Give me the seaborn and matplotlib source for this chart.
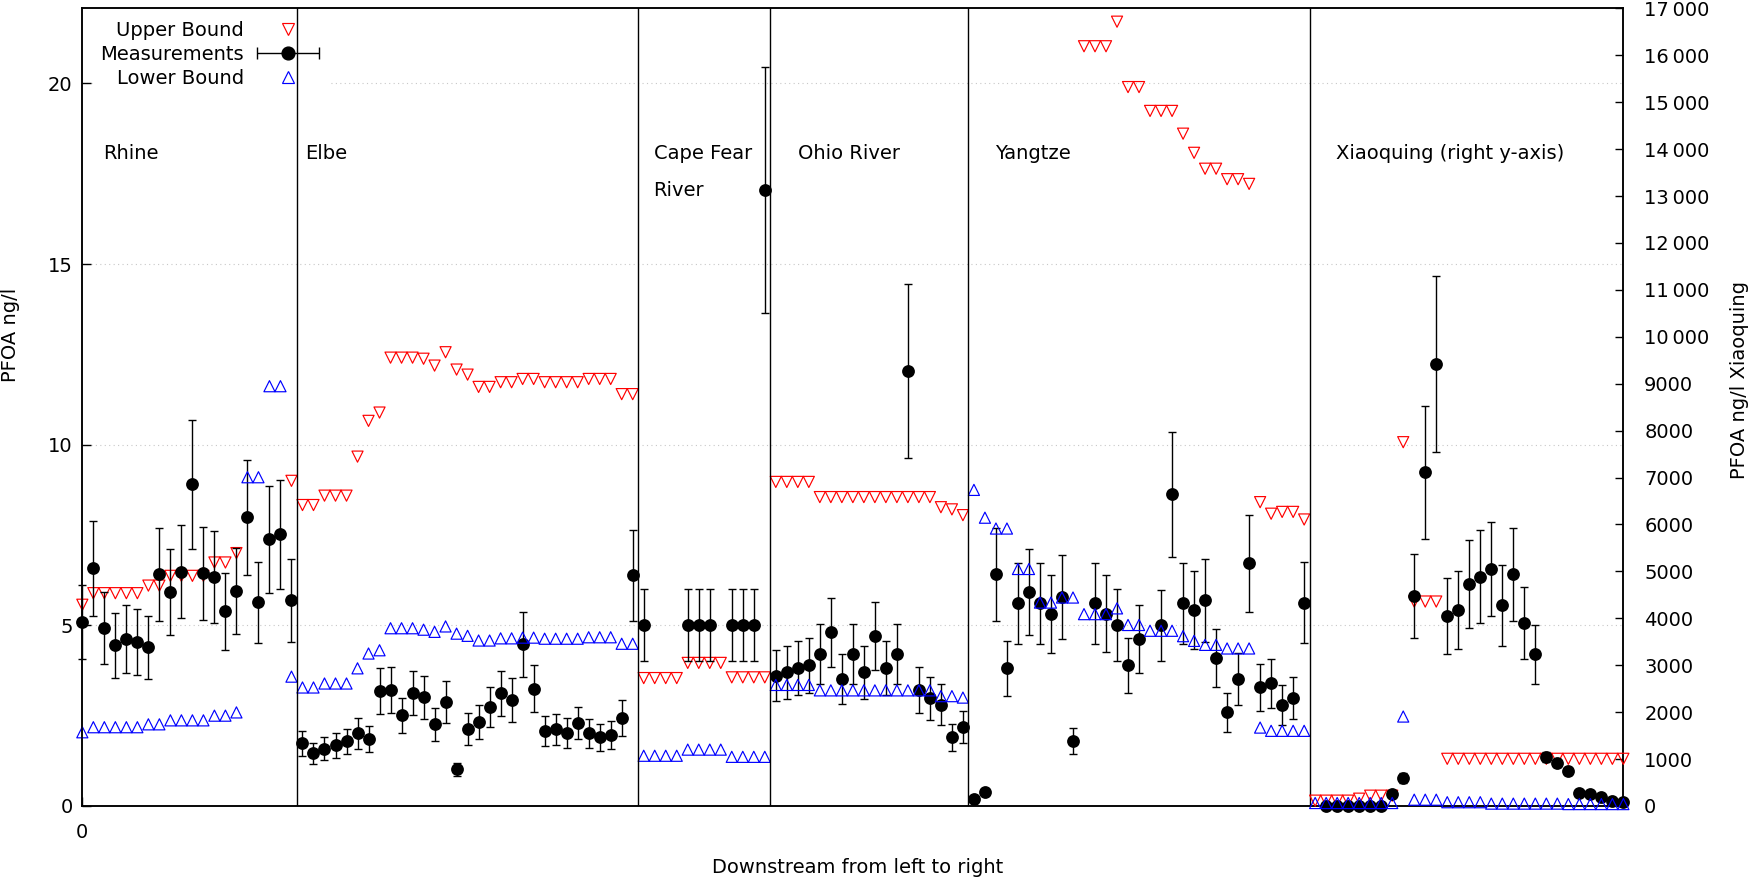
import numpy as np
import pandas as pd
import matplotlib
matplotlib.use("Agg")
import matplotlib.pyplot as plt
import seaborn as sns
from matplotlib.lines import Line2D
from matplotlib.container import ErrorbarContainer
from matplotlib.legend_handler import HandlerErrorbar

# PFOA ng/l per sampling point, downstream order, None = not available
rhine_upper = [5.57, 5.89, 5.89, 5.89, 5.89, 5.89, 6.10, 6.10, 6.37, 6.37,
               6.37, 6.37, 6.74, 6.74, 7.00, None, None, None, None, 9.00]
rhine_meas = [5.09, 6.58, 4.92, 4.45, 4.63, 4.53, 4.39, 6.41, 5.91, 6.49,
              8.90, 6.44, 6.33, 5.39, 5.94, 7.99, 5.64, 7.38, 7.52, 5.69]
rhine_err = [1.03, 1.32, 0.99, 0.90, 0.94, 0.91, 0.87, 1.29, 1.19, 1.30,
             1.78, 1.29, 1.27, 1.07, 1.19, 1.60, 1.12, 1.48, 1.51, 1.15]
rhine_lower = [2.04, 2.18, 2.18, 2.18, 2.18, 2.18, 2.26, 2.26, 2.37, 2.37,
               2.37, 2.37, 2.50, 2.50, 2.59, 9.10, 9.10, 11.62, 11.62, 3.58]

elbe_upper = [8.33, 8.33, 8.59, 8.59, 8.59, 9.67, 10.66, 10.89, 12.41, 12.41,
              12.41, 12.38, 12.19, 12.56, 12.08, 11.94, 11.60, 11.60, 11.73, 11.73,
              11.82, 11.82, 11.73, 11.73, 11.73, 11.73, 11.82, 11.82, 11.82, 11.40, 11.40]
elbe_meas = [1.73, 1.46, 1.59, 1.68, 1.79, 2.01, 1.85, 3.18, 3.21, 2.51,
             3.12, 3.01, 2.26, 2.88, 1.01, 2.13, 2.32, 2.74, 3.12, 2.93,
             4.48, 3.24, 2.07, 2.12, 2.02, 2.29, 2.01, 1.90, 1.96, 2.43, 6.38]
elbe_err = [0.35, 0.29, 0.32, 0.34, 0.35, 0.42, 0.37, 0.63, 0.64, 0.49,
            0.61, 0.60, 0.45, 0.57, 0.18, 0.43, 0.47, 0.55, 0.62, 0.60,
            0.90, 0.65, 0.42, 0.43, 0.41, 0.45, 0.40, 0.38, 0.39, 0.49, 1.27]
elbe_lower = [3.28, 3.28, 3.39, 3.39, 3.39, 3.81, 4.22, 4.31, 4.92, 4.92,
              4.92, 4.88, 4.82, 4.97, 4.77, 4.71, 4.58, 4.58, 4.64, 4.64,
              4.66, 4.66, 4.63, 4.63, 4.63, 4.63, 4.67, 4.67, 4.67, 4.49, 4.49]

capefear_upper = [3.54, 3.54, 3.54, 3.54, 3.96, 3.96, 3.96, 3.96, 3.56, 3.56, 3.56, 3.56]
capefear_meas = [5.0, None, None, None, 5.0, 5.0, 5.0, None, 5.0, 5.0, 5.0, 17.05]
capefear_err = [1.0, None, None, None, 1.0, 1.0, 1.0, None, 1.0, 1.0, 1.0, 3.4]
capefear_lower = [1.39, 1.39, 1.39, 1.39, 1.56, 1.56, 1.56, 1.56, 1.36, 1.36, 1.36, 1.36]

ohio_upper = [8.97, 8.97, 8.97, 8.97, 8.55, 8.55, 8.55, 8.55, 8.55, 8.55,
              8.55, 8.55, 8.55, 8.55, 8.55, 8.27, 8.21, 8.05]
ohio_meas = [3.61, 3.70, 3.81, 3.89, 4.20, 4.81, 3.51, 4.20, 3.70, 4.70,
             3.81, 4.20, 12.04, 3.21, 2.98, 2.80, 1.90, 2.18]
ohio_err = [0.71, 0.74, 0.75, 0.77, 0.83, 0.96, 0.69, 0.83, 0.74, 0.95,
            0.75, 0.83, 2.40, 0.65, 0.59, 0.57, 0.37, 0.44]
ohio_lower = [3.35, 3.35, 3.35, 3.35, 3.20, 3.20, 3.20, 3.20, 3.20, 3.20,
              3.20, 3.20, 3.20, 3.20, 3.20, 3.04, 3.04, 3.00]

yangtze_upper = [None, None, None, None, None, None, None, None, None, None,
                 21.03, 21.03, 21.03, 21.71, 19.90, 19.90, 19.24, 19.24, 19.24, 18.61,
                 18.08, 17.64, 17.64, 17.35, 17.35, 17.22, 8.41, 8.09, 8.14, 8.14, 7.93]
yangtze_meas = [0.18, 0.39, 6.41, 3.81, 5.61, 5.91, 5.61, 5.31, 5.79, 1.79,
                None, 5.61, 5.32, 5.00, 3.89, 4.62, None, 5.00, 8.63, 5.61,
                5.42, 5.70, 4.09, 2.59, 3.51, 6.72, 3.28, 3.40, 2.79, 2.99, 5.62]
yangtze_err = [0.04, 0.08, 1.28, 0.76, 1.12, 1.19, 1.12, 1.07, 1.16, 0.36,
               None, 1.12, 1.07, 1.00, 0.77, 0.93, None, 0.99, 1.73, 1.12,
               1.08, 1.15, 0.81, 0.53, 0.72, 1.34, 0.66, 0.68, 0.56, 0.59, 1.12]
yangtze_lower = [8.75, 7.98, 7.68, 7.68, 6.56, 6.56, 5.63, 5.63, 5.77, 5.77,
                 5.31, 5.31, 5.31, 5.47, 5.01, 5.01, 4.85, 4.85, 4.85, 4.70,
                 4.57, 4.46, 4.46, 4.36, 4.36, 4.36, 2.17, 2.08, 2.08, 2.08, 2.08]

# Xiaoquing is read on the right y-axis
xiaoquing_upper = [113, 113, 113, 113, 155, 219, 219, 219, 7753, 4357,
                   4357, 4357, 1005, 1005, 1005, 1005, 1005, 1005, 1005, 1005,
                   1005, 1005, 1005, 1005, 1005, 1005, 1005, 1005, 1005]
xiaoquing_meas = [None, 5, 5, 5, 5, 5, 5, 255, 596, 4474,
                  7109, 9419, 4049, 4172, 4730, 4890, 5049, 4277, 4936, 3894,
                  3233, 1039, 912, 735, 274, 252, 188, 96, 74]
xiaoquing_err = [None, 5, 5, 5, 5, 5, 5, 30, 100, 888,
                 1409, 1875, 807, 837, 943, 990, 1003, 858, 993, 770,
                 631, 105, 80, 70, 30, 30, 25, 20, 20]
xiaoquing_lower = [63, 63, 63, 63, 63, 63, 63, 63, 1906, 134,
                   134, 134, 80, 80, 80, 80, 50, 50, 50, 50,
                   50, 50, 50, 40, 40, 40, 40, 40, 40]

river_names = ["Rhine", "Elbe", "Cape Fear River", "Ohio River", "Yangtze", "Xiaoquing"]
label_texts = ["Rhine", "Elbe", "Cape Fear", "River", "Ohio River", "Yangtze",
               "Xiaoquing (right y-axis)"]
label_x = [1.9, 20.2, 51.9, 51.9, 65.0, 82.9, 113.9]
label_y = [18.07, 18.07, 18.07, 17.05, 18.07, 18.07, 18.07]

rivers = [
    (rhine_upper, rhine_meas, rhine_err, rhine_lower),
    (elbe_upper, elbe_meas, elbe_err, elbe_lower),
    (capefear_upper, capefear_meas, capefear_err, capefear_lower),
    (ohio_upper, ohio_meas, ohio_err, ohio_lower),
    (yangtze_upper, yangtze_meas, yangtze_err, yangtze_lower),
    (xiaoquing_upper, xiaoquing_meas, xiaoquing_err, xiaoquing_lower),
]

frames = []
for name, (up, me, er, lo) in zip(river_names, rivers):
    f = pd.DataFrame({"upper": up, "meas": me, "err": er, "lower": lo}).astype(float)
    f["river"] = name
    frames.append(f)
df = pd.concat(frames, ignore_index=True)
df["x"] = np.arange(len(df))
sizes = [len(f) for f in frames]
borders = np.cumsum(sizes)[:-1] - 0.5

left = df[df.river != "Xiaoquing"]
right = df[df.river == "Xiaoquing"]

sns.set_theme(style="white")
plt.rcParams["font.family"] = ["DejaVu Sans"]
plt.rcParams["font.size"] = 14
plt.rcParams["axes.edgecolor"] = "black"
plt.rcParams["axes.linewidth"] = 1.1
plt.rcParams["text.color"] = "black"
plt.rcParams["axes.labelcolor"] = "black"

fig, ax = plt.subplots(figsize=(17.48, 8.77), dpi=100)
fig.subplots_adjust(left=0.0471, right=0.9287, bottom=0.081, top=0.9905)
ax2 = ax.twinx()

RED = "#ff0000"
BLUE = "#0000ff"


def draw(a, d):
    sns.scatterplot(data=d, x="x", y="upper", marker="v", s=64, facecolors="none",
                    edgecolor=RED, linewidth=0.85, ax=a, zorder=3, clip_on=False)
    a.errorbar(d["x"], d["meas"], yerr=d["err"], fmt="none", ecolor="black",
               elinewidth=1.0, capsize=3.2, capthick=1.0, zorder=4, clip_on=False)
    sns.scatterplot(data=d, x="x", y="meas", marker="o", s=85, color="black",
                    edgecolor="black", linewidth=0, ax=a, zorder=5, clip_on=False)
    sns.scatterplot(data=d, x="x", y="lower", marker="^", s=64, facecolors="none",
                    edgecolor=BLUE, linewidth=0.85, ax=a, zorder=6, clip_on=False)


draw(ax, left)
draw(ax2, right)

# river separators, drawn over the legend box like the original
for b in borders:
    ax.axvline(b, color="black", lw=1.0, zorder=11)

for txt, lx, ly in zip(label_texts, label_x, label_y):
    ax.text(lx, ly, txt, ha="left", va="center", fontsize=14, color="black")

ax.set_xlim(0, len(df) - 1)
ax.set_ylim(0, 22.08)
ax2.set_ylim(0, 17000)
ax.set_xticks([0])
ax.set_xticklabels(["0"])
ax.set_yticks([0, 5, 10, 15, 20])
ax.grid(axis="y", color="#c8c8c8", linestyle=(0, (1, 3)), linewidth=0.8)
ax.grid(axis="x", visible=False)
ax2.grid(False)

rticks = np.arange(0, 17001, 1000)
ax2.set_yticks(rticks)
ax2.set_yticklabels([f"{v:,}".replace(",", "\u2009") if v >= 10000 else str(v) for v in rticks])

ax.tick_params(axis="y", left=True, direction="in", length=6.5, width=1, pad=7,
               labelsize=14, colors="black")
ax.tick_params(axis="x", bottom=True, direction="in", length=6.5, width=1, pad=12,
               labelsize=14, colors="black")
ax2.tick_params(axis="y", right=True, direction="in", length=6, width=1, pad=15,
                labelsize=14, colors="black")

ax.set_xlabel("Downstream from left to right", fontsize=14)
ax.set_ylabel("PFOA ng/l", fontsize=14)
ax2.set_ylabel("PFOA ng/l Xiaoquing", fontsize=14, rotation=90)
ax.xaxis.set_label_coords(0.503, -0.0652)
ax.yaxis.set_label_coords(-0.0404, 0.59)
ax2.yaxis.set_label_coords(1.0695, 0.534)
ax2.yaxis.label.set_va("top")

h_up = Line2D([], [], marker="v", ls="none", mfc="none", mec=RED, mew=0.85, ms=8.8)
h_lo = Line2D([], [], marker="^", ls="none", mfc="none", mec=BLUE, mew=0.85, ms=8.8)
h_me = ax.errorbar([np.nan], [np.nan], xerr=[np.nan], fmt="o", color="black", ms=9.2,
                   capsize=4, elinewidth=1.0, capthick=1.0)
leg = ax.legend([h_up, h_me, h_lo], ["Upper Bound", "Measurements", "Lower Bound"],
                loc="upper left", bbox_to_anchor=(0.0067, 0.9944), borderaxespad=0,
                borderpad=0.4, markerfirst=False, handlelength=3.5, handletextpad=0.5,
                labelspacing=0.27, fontsize=14, frameon=True, fancybox=False,
                facecolor="white", edgecolor="none", framealpha=1.0,
                handler_map={ErrorbarContainer: HandlerErrorbar(xerr_size=1.6)})
leg.set_zorder(10)

fig.savefig("out.png", dpi=100)
